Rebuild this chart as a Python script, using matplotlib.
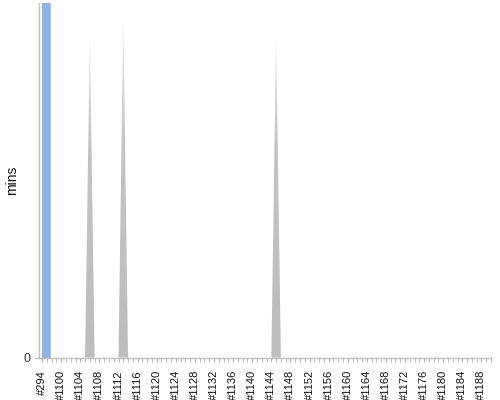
import numpy as np
import matplotlib.pyplot as plt
from matplotlib.colors import LinearSegmentedColormap
from matplotlib.patches import Polygon

# builds along the x axis: one old build, then a consecutive run
builds = ['#294'] + ['#%d' % n for n in range(1097, 1191)]
# duration in minutes per build (0 where nothing was recorded)
durations = [0.0] * len(builds)
durations[builds.index('#1106')] = 10.9
durations[builds.index('#1113')] = 11.6
durations[builds.index('#1145')] = 10.9
# the highlighted build
selected = '#294'
selected_mins = 12.0
y_top = 12.0


def run():
    plt.rcParams['font.family'] = ['Liberation Sans', 'DejaVu Sans']
    fig = plt.figure(figsize=(5, 4), dpi=100)
    ax = fig.add_axes([0.078, 0.106, 0.904, 0.8865])

    x = np.arange(len(builds))
    y = np.array(durations)

    # gray area with a fade to white at the top
    verts = np.column_stack([np.r_[x[0], x, x[-1]], np.r_[0, y, 0]])
    poly = Polygon(verts, closed=True, facecolor='none', edgecolor='none')
    ax.add_patch(poly)
    cmap = LinearSegmentedColormap.from_list(
        'fade', [(0.0, '#bdbdbd'), (0.6, '#c4c4c4'), (0.88, '#e2e2e2'), (1.0, '#ffffff')])
    grad = np.linspace(0, 1, 256).reshape(-1, 1)
    im = ax.imshow(grad, extent=[x[0], x[-1], 0, y_top], origin='lower',
                   aspect='auto', cmap=cmap, zorder=2)
    im.set_clip_path(poly)

    # highlighted build
    i = builds.index(selected)
    ax.bar(i, selected_mins, width=1.7, align='edge', color='#8db4e2',
           edgecolor='none', zorder=3)
    ax.bar(i + 1.7, selected_mins, width=0.2, align='edge', color='#c0c0c0',
           edgecolor='none', zorder=3)

    ax.set_xlim(-0.65, 94.0)
    ax.set_ylim(0, y_top)

    ax.set_xticks(x[::4])
    ax.set_xticklabels(builds[::4], rotation=90, fontsize=8, color='#111111')
    ax.set_xticks(x, minor=True)
    ax.tick_params(axis='x', which='both', length=3, color='#b0b0b0', pad=6)
    ax.set_yticks([0])
    ax.set_yticklabels(['0'], fontsize=9, color='#333333')
    ax.tick_params(axis='y', length=3, color='#b0b0b0', pad=3)
    ax.set_ylabel('mins', fontsize=10, color='#111111')
    ax.yaxis.set_label_coords(-0.045, 0.5)

    for side in ['top', 'right']:
        ax.spines[side].set_visible(False)
    for side in ['left', 'bottom']:
        ax.spines[side].set_color('#c0c0c0')
        ax.spines[side].set_linewidth(1.0)

    fig.savefig('out.png', dpi=100)


if __name__ == '__main__':
    run()
